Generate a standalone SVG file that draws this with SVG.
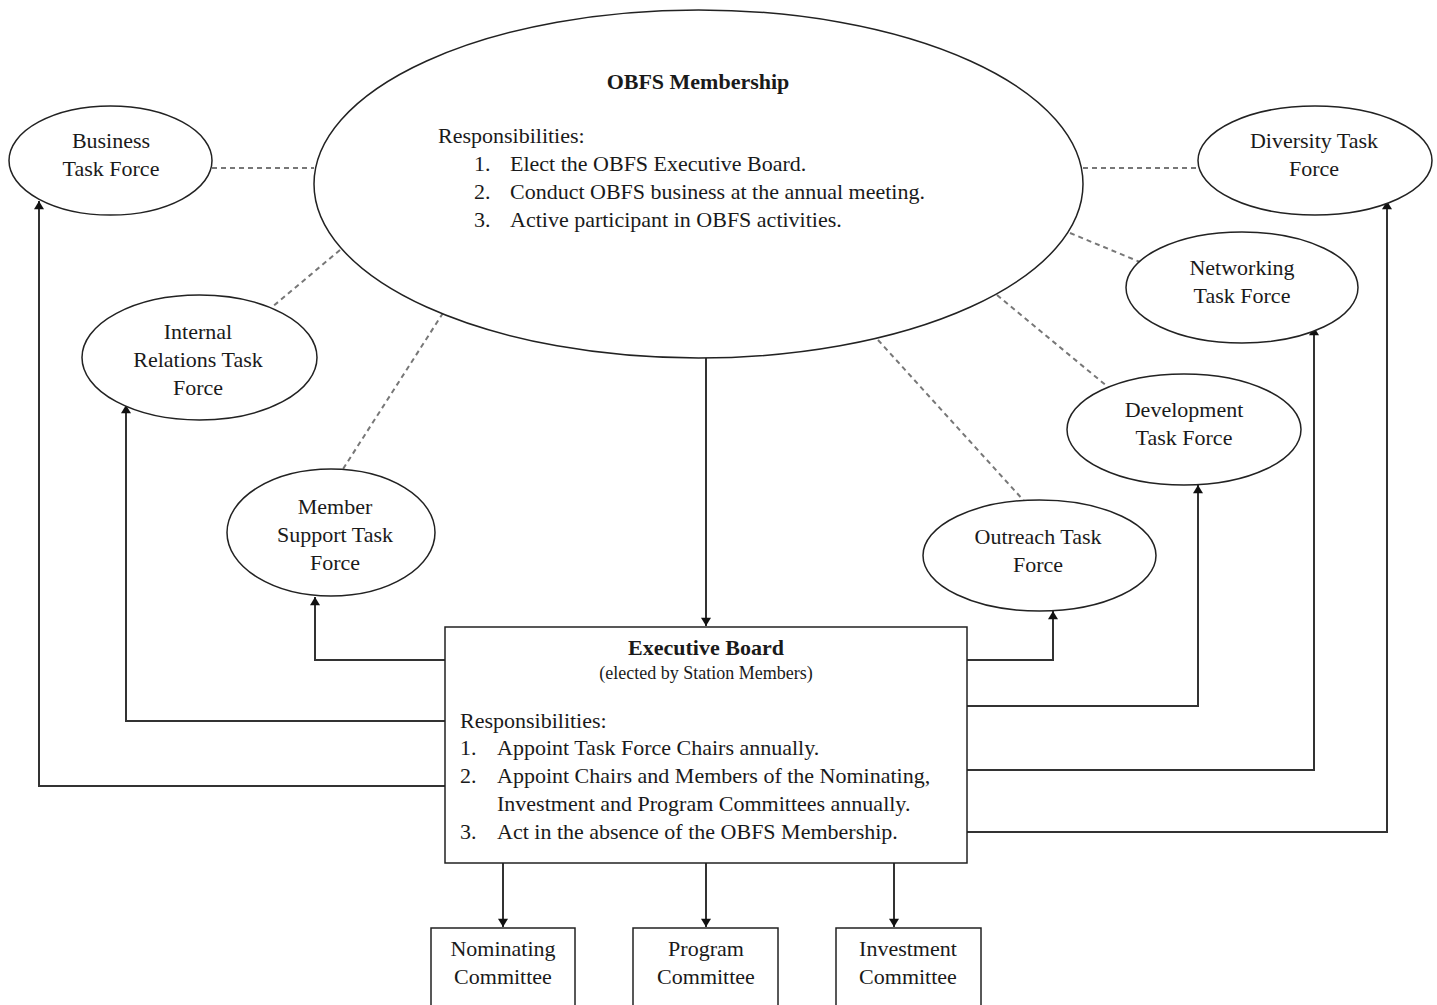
<svg xmlns="http://www.w3.org/2000/svg" width="1437" height="1005" viewBox="0 0 1437 1005">
<style>
.shape{fill:#fff;stroke:#222;stroke-width:1.5}
.t{font-family:"Liberation Serif","Times New Roman",serif;font-size:22px;fill:#1a1a1a}
.c{text-anchor:middle}
.b{font-weight:bold}
.s{font-size:18px}
.conn{fill:none;stroke:#333;stroke-width:2}
.dash{fill:none;stroke:#777;stroke-width:2;stroke-dasharray:5 4}
</style>
<defs>
<marker id="arr" viewBox="0 0 10 12" refX="10" refY="6" markerWidth="12" markerHeight="10" markerUnits="userSpaceOnUse" orient="auto">
<path d="M0,0 L10,6 L0,12 z" fill="#111"/>
</marker>
</defs>
<rect width="1437" height="1005" fill="#fff"/>
<g id="connectors">
<line class="dash" x1="212" y1="168" x2="314" y2="168"/>
<line class="dash" x1="1083" y1="168" x2="1198" y2="168"/>
<line class="dash" x1="340" y1="250" x2="271" y2="308"/>
<line class="dash" x1="443" y1="313" x2="343" y2="469"/>
<line class="dash" x1="1070" y1="233" x2="1140" y2="262"/>
<line class="dash" x1="997" y1="295" x2="1108" y2="387"/>
<line class="dash" x1="878" y1="340" x2="1025" y2="502"/>
<path class="conn" d="M706,358 V626" marker-end="url(#arr)"/>
<path class="conn" d="M445,660 H315 V597" marker-end="url(#arr)"/>
<path class="conn" d="M445,721 H126 V405" marker-end="url(#arr)"/>
<path class="conn" d="M445,786 H39 V201" marker-end="url(#arr)"/>
<path class="conn" d="M967,660 H1053 V611" marker-end="url(#arr)"/>
<path class="conn" d="M967,706 H1198 V485" marker-end="url(#arr)"/>
<path class="conn" d="M967,770 H1314 V327" marker-end="url(#arr)"/>
<path class="conn" d="M967,832 H1387 V201" marker-end="url(#arr)"/>
<path class="conn" d="M503,863 V927" marker-end="url(#arr)"/>
<path class="conn" d="M706,863 V927" marker-end="url(#arr)"/>
<path class="conn" d="M894,863 V927" marker-end="url(#arr)"/>
</g>
<g id="membership">
<ellipse class="shape" cx="698.5" cy="184" rx="384.5" ry="174"/>
<text class="t c b" x="698" y="89">OBFS Membership</text>
<text class="t" x="438" y="143">Responsibilities:</text>
<text class="t" x="474" y="171">1.</text><text class="t" x="510" y="171">Elect the OBFS Executive Board.</text>
<text class="t" x="474" y="199">2.</text><text class="t" x="510" y="199">Conduct OBFS business at the annual meeting.</text>
<text class="t" x="474" y="227">3.</text><text class="t" x="510" y="227">Active participant in OBFS activities.</text>
</g>
<g id="business">
<ellipse class="shape" cx="110.5" cy="160.5" rx="101.5" ry="54.5"/>
<text class="t c" x="111" y="148">Business</text>
<text class="t c" x="111" y="176">Task Force</text>
</g>
<g id="diversity">
<ellipse class="shape" cx="1315" cy="160.5" rx="117" ry="54.5"/>
<text class="t c" x="1314" y="148">Diversity Task</text>
<text class="t c" x="1314" y="176">Force</text>
</g>
<g id="internal">
<ellipse class="shape" cx="199.5" cy="357.5" rx="117.5" ry="62.5"/>
<text class="t c" x="198" y="339">Internal</text>
<text class="t c" x="198" y="367">Relations Task</text>
<text class="t c" x="198" y="395">Force</text>
</g>
<g id="networking">
<ellipse class="shape" cx="1242" cy="287.5" rx="116" ry="55.5"/>
<text class="t c" x="1242" y="275">Networking</text>
<text class="t c" x="1242" y="303">Task Force</text>
</g>
<g id="development">
<ellipse class="shape" cx="1184" cy="429.5" rx="117" ry="55.5"/>
<text class="t c" x="1184" y="417">Development</text>
<text class="t c" x="1184" y="445">Task Force</text>
</g>
<g id="outreach">
<ellipse class="shape" cx="1039.5" cy="555.5" rx="116.5" ry="55.5"/>
<text class="t c" x="1038" y="544">Outreach Task</text>
<text class="t c" x="1038" y="572">Force</text>
</g>
<g id="membersupport">
<ellipse class="shape" cx="331" cy="532.5" rx="104" ry="63.5"/>
<text class="t c" x="335" y="514">Member</text>
<text class="t c" x="335" y="542">Support Task</text>
<text class="t c" x="335" y="570">Force</text>
</g>
<g id="executive">
<rect class="shape" x="445" y="627" width="522" height="236"/>
<text class="t c b" x="706" y="655">Executive Board</text>
<text class="t c s" x="706" y="679">(elected by Station Members)</text>
<text class="t" x="460" y="728">Responsibilities:</text>
<text class="t" x="460" y="755">1.</text><text class="t" x="497" y="755">Appoint Task Force Chairs annually.</text>
<text class="t" x="460" y="783">2.</text><text class="t" x="497" y="783">Appoint Chairs and Members of the Nominating,</text>
<text class="t" x="497" y="811">Investment and Program Committees annually.</text>
<text class="t" x="460" y="839">3.</text><text class="t" x="497" y="839">Act in the absence of the OBFS Membership.</text>
</g>
<g id="nominating">
<rect class="shape" x="431" y="928" width="144" height="90"/>
<text class="t c" x="503" y="956">Nominating</text>
<text class="t c" x="503" y="984">Committee</text>
</g>
<g id="program">
<rect class="shape" x="633" y="928" width="145" height="90"/>
<text class="t c" x="706" y="956">Program</text>
<text class="t c" x="706" y="984">Committee</text>
</g>
<g id="investment">
<rect class="shape" x="836" y="928" width="145" height="90"/>
<text class="t c" x="908" y="956">Investment</text>
<text class="t c" x="908" y="984">Committee</text>
</g>
</svg>
